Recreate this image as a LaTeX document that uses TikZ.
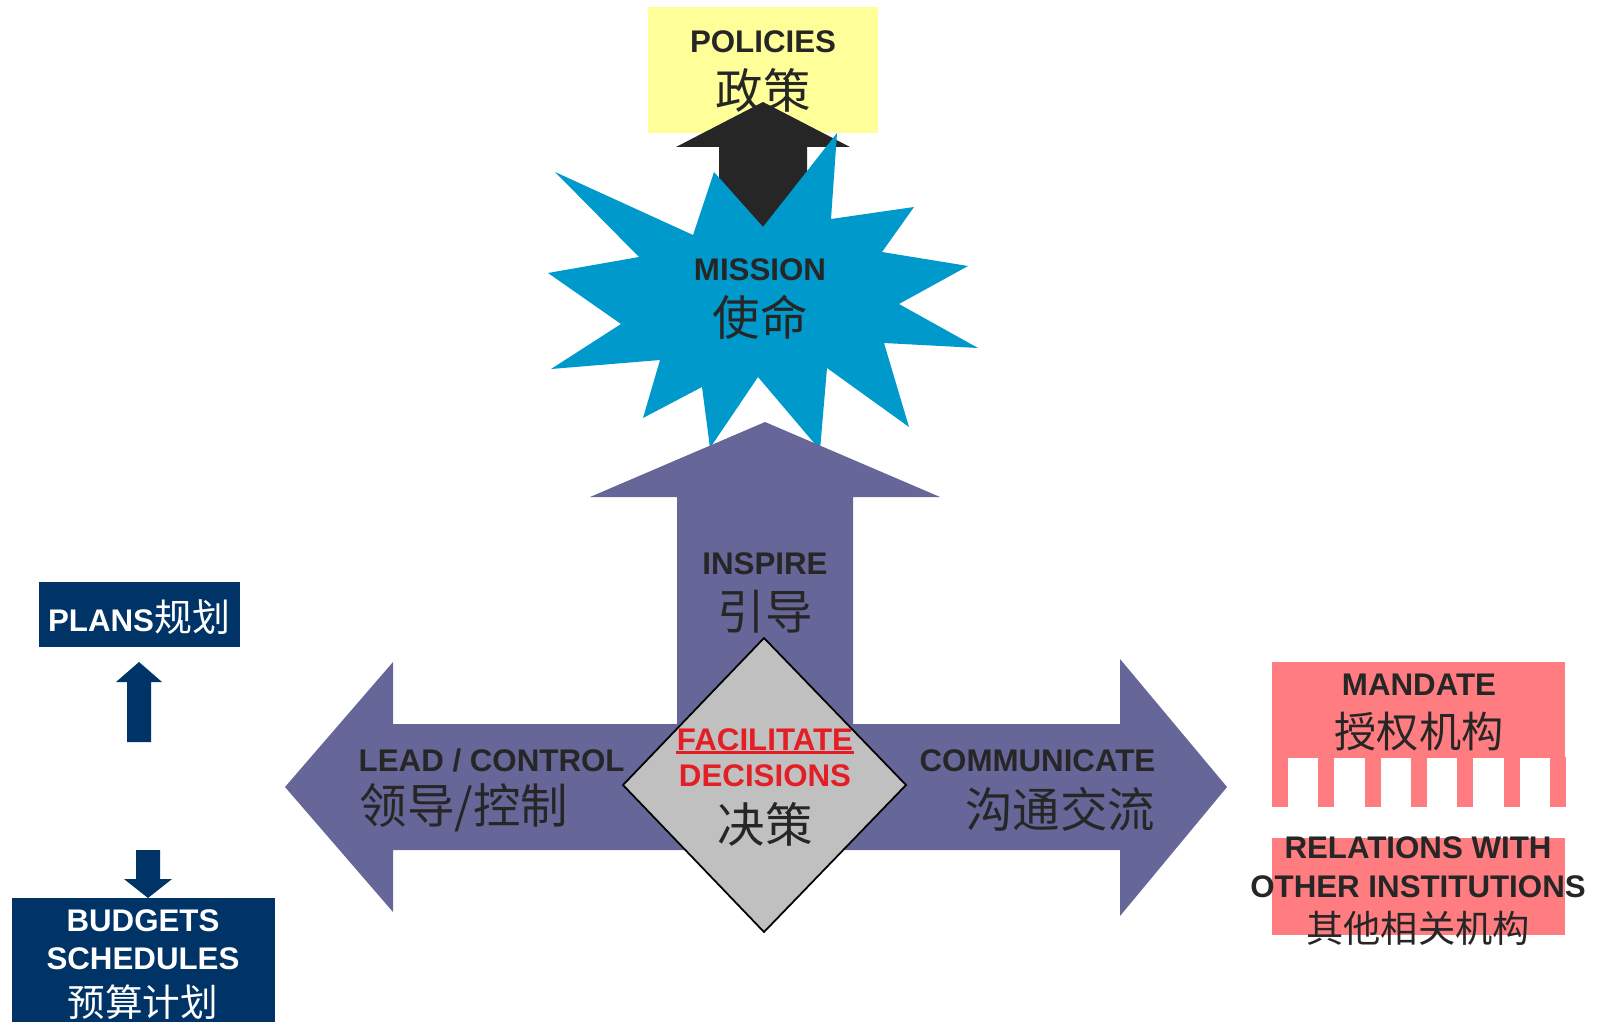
\documentclass[tikz,border=0pt]{standalone}
\usepackage{fontspec}
\setmainfont{Liberation Sans}
\newfontfamily\cjk{Noto Sans CJK SC}
\definecolor{starblue}{RGB}{0,153,204}
\definecolor{crossviolet}{RGB}{102,102,153}
\definecolor{polyellow}{RGB}{255,255,153}
\definecolor{mandpink}{RGB}{255,124,128}
\definecolor{plannavy}{RGB}{0,51,102}
\definecolor{darktxt}{RGB}{38,38,38}
\definecolor{decred}{RGB}{227,30,36}
\definecolor{diagray}{RGB}{192,192,192}

\begin{document}
\begin{tikzpicture}[
    entext/.style={font=\fontsize{8.9}{10.7}\selectfont\bfseries, text=darktxt, inner sep=0pt},
    cntext/.style={font=\fontsize{#1}{#1}\selectfont\cjk, text=darktxt, inner sep=0pt},
    cntext/.default=13.5]
        \useasboundingbox (0,0) rectangle (16.03,-10.22);
        % policies on top
        \fill[polyellow] (6.48,-0.07) rectangle (8.78,-1.33);
        \node[entext] (pol) at (7.63,-0.42) {POLICIES};
        \node[cntext] (polcn) at (7.63,-0.90) {政策};
        \fill[darktxt] (7.63,-1.02) -- (8.50,-1.47) -- (8.07,-1.47) -- (8.07,-2.40) -- (7.19,-2.40) -- (7.19,-1.47) -- (6.76,-1.47) -- cycle;
        % mission star
        \fill[starblue] (5.55,-1.72) -- (6.93,-2.35) -- (7.14,-1.72) -- (7.63,-2.27) -- (8.37,-1.33) -- (8.31,-2.19) -- (9.14,-2.07) -- (8.82,-2.52) -- (9.68,-2.66) -- (8.99,-3.04) -- (9.78,-3.48) -- (8.84,-3.43) -- (9.09,-4.27) -- (8.27,-3.68) -- (8.20,-4.50) -- (7.58,-3.77) -- (7.10,-4.48) -- (7.02,-3.87) -- (6.43,-4.18) -- (6.60,-3.60) -- (5.51,-3.69) -- (6.21,-3.24) -- (5.48,-2.73) -- (6.39,-2.57) -- cycle;
        \node[entext] (mis) at (7.60,-2.70) {MISSION};
        \node[cntext] (miscn) at (7.60,-3.17) {使命};
        % the three-way arrow
        \fill[crossviolet] (7.65,-4.22) -- (9.40,-4.97) -- (8.53,-4.97) -- (8.53,-7.24) -- (11.20,-7.24) -- (11.20,-6.59) -- (12.27,-7.87) -- (11.20,-9.16) -- (11.20,-8.50) -- (3.93,-8.50) -- (3.93,-9.12) -- (2.85,-7.87) -- (3.93,-6.62) -- (3.93,-7.24) -- (6.77,-7.24) -- (6.77,-4.97) -- (5.90,-4.97) -- cycle;
        \node[entext] (insp) at (7.65,-5.64) {INSPIRE};
        \node[cntext] (inspcn) at (7.65,-6.12) {引导};
        \node[entext, anchor=west] (lead) at (3.58,-7.60) {LEAD / CONTROL};
        \node[cntext, anchor=west] (leadcn) at (3.59,-8.08) {领导/控制};
        \node[entext, anchor=east] (comm) at (11.56,-7.61) {COMMUNICATE};
        \node[cntext, anchor=east] (commcn) at (11.56,-8.09) {沟通交流};
        % decisions diamond
        \filldraw[fill=diagray, draw=black, line width=0.5pt] (7.64,-6.38) -- (9.06,-7.85) -- (7.64,-9.32) -- (6.23,-7.85) -- cycle;
        \node[entext, text=decred, anchor=base] (fac) at (7.65,-7.505) {FACILITATE};
        \draw[decred, line width=0.75pt] ([yshift=-0.6pt]fac.base west) -- ([yshift=-0.6pt]fac.base east);
        \node[entext, text=decred] (dec) at (7.65,-7.76) {DECISIONS};
        \node[cntext] (deccn) at (7.65,-8.24) {决策};
        % plans and budgets
        \fill[plannavy] (0.39,-5.82) rectangle (2.40,-6.47);
        \node[entext, text=white] (plans) at (1.39,-6.17) {PLANS{\cjk\fontsize{10.8}{10.8}\selectfont\mdseries 规划}};
        \fill[plannavy] (1.39,-6.62) -- (1.62,-6.82) -- (1.51,-6.82) -- (1.51,-7.42) -- (1.27,-7.42) -- (1.27,-6.82) -- (1.16,-6.82) -- cycle;
        \fill[plannavy] (1.36,-8.50) -- (1.60,-8.50) -- (1.60,-8.79) -- (1.72,-8.79) -- (1.48,-8.98) -- (1.24,-8.79) -- (1.36,-8.79) -- cycle;
        \fill[plannavy] (0.12,-8.98) rectangle (2.75,-10.22);
        \node[entext, text=white] (bud) at (1.43,-9.21) {BUDGETS};
        \node[entext, text=white] (sch) at (1.43,-9.59) {SCHEDULES};
        \node[cntext=10.7, text=white] (budcn) at (1.43,-10.02) {预算计划};
        % mandate and other institutions
        \fill[mandpink] (12.72,-6.62) rectangle (15.65,-7.58);
        \foreach \k in {0,...,6}
            \fill[mandpink] ({12.72+0.463*\k},-7.57) rectangle +(0.16,-0.50);
        \node[entext] (mand) at (14.19,-6.85) {MANDATE};
        \node[cntext=12] (mandcn) at (14.19,-7.32) {授权机构};
        \fill[mandpink] (12.72,-8.38) rectangle (15.65,-9.35);
        \node[entext] (rel) at (14.18,-8.48) {RELATIONS WITH};
        \node[entext] (oth) at (14.18,-8.87) {OTHER INSTITUTIONS};
        \node[cntext=10.6] (othcn) at (14.18,-9.28) {其他相关机构};
    \end{tikzpicture}
\end{document}
